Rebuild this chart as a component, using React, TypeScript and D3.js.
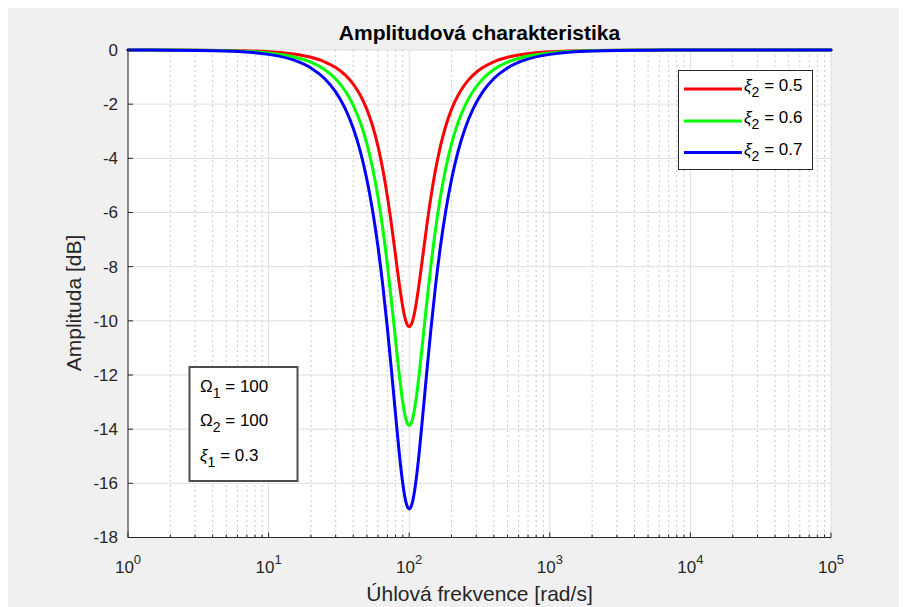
import React from 'react';
import * as d3 from 'd3';

// Angular frequency samples [rad/s]
const omega = [
  1, 2, 5, 10, 15, 20, 25, 30, 35, 40, 45, 50, 55, 60, 65, 70, 75, 80, 85, 90, 95, 97.5, 100,
  102.56, 105.26, 111.11, 117.65, 125, 133.33, 142.86, 153.85, 166.67, 181.82, 200, 222.22, 250,
  285.71, 333.33, 400, 500, 666.67, 1000, 2000, 5000, 10000, 100000,
];

// Amplitude [dB] for xi2 = 0.5
const ampXi05 = [
  -0.001, -0.003, -0.016, -0.065, -0.148, -0.27, -0.434, -0.648, -0.919, -1.259, -1.679, -2.193,
  -2.815, -3.558, -4.426, -5.414, -6.494, -7.598, -8.636, -9.486, -10.036, -10.172, -10.217,
  -10.172, -10.036, -9.486, -8.636, -7.598, -6.494, -5.414, -4.426, -3.558, -2.815, -2.193, -1.679,
  -1.259, -0.919, -0.648, -0.434, -0.27, -0.148, -0.065, -0.016, -0.003, -0.001, 0,
];

// Amplitude [dB] for xi2 = 0.6
const ampXi06 = [
  -0.001, -0.004, -0.027, -0.109, -0.249, -0.451, -0.722, -1.07, -1.506, -2.041, -2.689, -3.463,
  -4.374, -5.429, -6.625, -7.941, -9.333, -10.716, -11.984, -13.004, -13.65, -13.81, -13.863,
  -13.81, -13.65, -13.004, -11.984, -10.716, -9.333, -7.941, -6.625, -5.429, -4.374, -3.463, -2.689,
  -2.041, -1.506, -1.07, -0.722, -0.451, -0.249, -0.109, -0.027, -0.004, -0.001, 0,
];

// Amplitude [dB] for xi2 = 0.7
const ampXi07 = [
  -0.002, -0.006, -0.04, -0.161, -0.367, -0.661, -1.052, -1.547, -2.157, -2.893, -3.764, -4.781,
  -5.95, -7.267, -8.721, -10.284, -11.896, -13.466, -14.893, -16.005, -16.714, -16.89, -16.946,
  -16.89, -16.714, -16.005, -14.893, -13.466, -11.896, -10.284, -8.721, -7.267, -5.95, -4.781, -3.764,
  -2.893, -2.157, -1.547, -1.052, -0.661, -0.367, -0.161, -0.04, -0.006, -0.002, 0,
];

const seriesValues = [ampXi05, ampXi06, ampXi07];
const seriesXi2 = ['0.5', '0.6', '0.7'];
const seriesColors = ['#ff0000', '#00ff00', '#0000ff'];

const yTicks = [0, -2, -4, -6, -8, -10, -12, -14, -16, -18];
const yTickLabels = ['0', '-2', '-4', '-6', '-8', '-10', '-12', '-14', '-16', '-18'];
const xTicks = [1, 10, 100, 1000, 10000, 100000];
const xTickExponents = ['0', '1', '2', '3', '4', '5'];

const titleText = 'Amplitudová charakteristika';
const xLabelText = 'Úhlová frekvence [rad/s]';
const yLabelText = 'Amplituda [dB]';

const paramNames = ['Ω', 'Ω', 'ξ'];
const paramSubs = ['1', '2', '1'];
const paramValues = ['100', '100', '0.3'];

const FONT = '"Liberation Sans", Arial, Helvetica, sans-serif';

export default function App() {
  const L = 128, R = 831, T = 50, B = 537.5;
  const x = d3.scaleLog().domain([1, 1e5]).range([L, R]);
  const y = d3.scaleLinear().domain([-18, 0]).range([B, T]);

  const minorTicks: number[] = [];
  for (let d = 0; d < 5; d++) {
    for (let k = 2; k <= 9; k++) minorTicks.push(k * Math.pow(10, d));
  }

  const line = d3
    .line<number>()
    .x((_, i) => x(omega[i]))
    .y((v) => y(v))
    .curve(d3.curveMonotoneX);

  const axisColor = '#262626';
  const gridColor = '#dedede';
  const minorGridColor = '#c9c9c9';

  const legendX = 678.5, legendY = 70.5, legendW = 134, legendH = 99;
  const legendRowY = [89, 121, 152.5];

  const boxX = 189.5, boxY = 367, boxW = 108, boxH = 114;
  const boxRowY = [392, 426, 461];

  return (
    <svg width={899} height={599} style={{ display: 'block' }}>
      <g transform="translate(-8,-8)">
        <rect x={0} y={0} width={920} height={620} fill="#f0f0f0" />
        <rect x={L} y={T} width={R - L} height={B - T} fill="#ffffff" />

        {/* minor grid */}
        {minorTicks.map((v, i) => (
          <line key={'mg' + i} x1={x(v)} x2={x(v)} y1={T} y2={B} stroke={minorGridColor}
            strokeWidth={1} strokeDasharray="2,3" />
        ))}
        {/* major grid */}
        {xTicks.map((v, i) => (
          <line key={'xg' + i} x1={x(v)} x2={x(v)} y1={T} y2={B} stroke={gridColor} strokeWidth={1} />
        ))}
        {yTicks.map((v, i) => (
          <line key={'yg' + i} x1={L} x2={R} y1={y(v)} y2={y(v)} stroke={gridColor} strokeWidth={1} />
        ))}

        {/* curves */}
        {seriesValues.map((vals, i) => (
          <path key={'s' + i} d={line(vals) || ''} fill="none" stroke={seriesColors[i]}
            strokeWidth={3} strokeLinejoin="round" strokeLinecap="round" />
        ))}

        {/* axes lines */}
        <line x1={L} x2={L} y1={T} y2={B} stroke={axisColor} strokeWidth={1} />
        <line x1={L} x2={R} y1={B} y2={B} stroke={axisColor} strokeWidth={1} />

        {/* x ticks */}
        {xTicks.map((v, i) => (
          <line key={'xt' + i} x1={x(v)} x2={x(v)} y1={B} y2={B - 5} stroke={axisColor} strokeWidth={1} />
        ))}
        {minorTicks.map((v, i) => (
          <line key={'xm' + i} x1={x(v)} x2={x(v)} y1={B} y2={B - 3} stroke={axisColor} strokeWidth={1} />
        ))}
        {/* y ticks */}
        {yTicks.map((v, i) => (
          <line key={'yt' + i} x1={L} x2={L + 5} y1={y(v)} y2={y(v)} stroke={axisColor} strokeWidth={1} />
        ))}

        {/* x tick labels */}
        {xTicks.map((v, i) => (
          <text key={'xl' + i} x={x(v)} y={573} textAnchor="middle" fontFamily={FONT}
            fontSize={17} fill={axisColor}>
            10<tspan dy={-9} fontSize={13}>{xTickExponents[i]}</tspan>
          </text>
        ))}
        {/* y tick labels */}
        {yTicks.map((v, i) => (
          <text key={'yl' + i} x={118} y={y(v)} dy="0.35em" textAnchor="end" fontFamily={FONT}
            fontSize={17} fill={axisColor}>
            {yTickLabels[i]}
          </text>
        ))}

        {/* title & labels */}
        <text x={(L + R) / 2} y={40} textAnchor="middle" fontFamily={FONT} fontSize={21}
          fontWeight="bold" fill="#000">
          {titleText}
        </text>
        <text x={(L + R) / 2} y={601} textAnchor="middle" fontFamily={FONT} fontSize={21} fill={axisColor}>
          {xLabelText}
        </text>
        <text transform={`translate(81,${303}) rotate(-90)`} textAnchor="middle" fontFamily={FONT}
          fontSize={21} fill={axisColor}>
          {yLabelText}
        </text>

        {/* legend */}
        <rect x={legendX} y={legendY} width={legendW} height={legendH} fill="#ffffff" stroke={axisColor}
          strokeWidth={1} />
        {seriesXi2.map((s, i) => (
          <g key={'lg' + i}>
            <line x1={684} x2={742} y1={legendRowY[i]} y2={legendRowY[i]} stroke={seriesColors[i]}
              strokeWidth={3} />
            <text x={744} y={legendRowY[i] + 2} fontFamily={FONT} fontSize={17} fill="#000">
              <tspan fontStyle="italic">ξ</tspan>
              <tspan dy={6} fontSize={14}>2</tspan>
              <tspan dy={-6}>{' = ' + s}</tspan>
            </text>
          </g>
        ))}

        {/* parameter box */}
        <rect x={boxX} y={boxY} width={boxW} height={boxH} fill="#ffffff" stroke="#4d4d4d" strokeWidth={2} />
        {paramNames.map((p, i) => (
          <text key={'pb' + i} x={200} y={boxRowY[i]} fontFamily={FONT} fontSize={17} fill="#000">
            <tspan fontStyle={p === 'ξ' ? 'italic' : 'normal'}>{p}</tspan>
            <tspan dy={6} fontSize={14}>{paramSubs[i]}</tspan>
            <tspan dy={-6}>{' = ' + paramValues[i]}</tspan>
          </text>
        ))}
      </g>
    </svg>
  );
}
